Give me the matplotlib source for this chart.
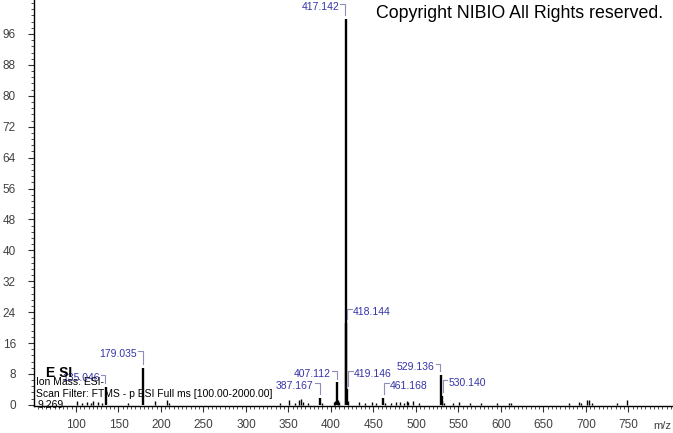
import matplotlib
matplotlib.use("Agg")
from matplotlib import pyplot as plt
from matplotlib.ticker import MultipleLocator

plt.rcParams['font.family'] = ['Liberation Sans', 'DejaVu Sans']

# labelled peaks: m/z, relative abundance
label_mz = [135.046, 179.035, 387.167, 407.112, 417.142, 418.144, 419.146, 461.168, 529.136, 530.140]
label_int = [4.7, 9.6, 1.8, 5.9, 100.0, 21.3, 4.1, 1.8, 7.8, 2.3]
label_text = ["135.046", "179.035", "387.167", "407.112", "417.142",
              "418.144", "419.146", "461.168", "529.136", "530.140"]
label_side = ["l", "l", "l", "l", "l", "r", "r", "r", "l", "r"]
label_y = [7.0, 13.2, 4.9, 8.0, 103.0, 24.1, 8.0, 4.9, 9.8, 5.7]

# small unlabelled peaks
minor_mz = [101.0, 106.5, 113.0, 117.5, 120.5, 126.0, 131.0, 161.0, 192.5, 207.0, 209.0,
            340.0, 351.0, 358.0, 362.5, 364.5, 367.0, 373.0, 389.0, 403.0, 405.0, 408.1,
            409.0, 420.1, 433.0, 440.0, 448.0, 453.0, 463.0, 471.0, 476.0, 481.0, 486.0,
            489.0, 491.0, 496.0, 503.0, 531.1, 533.0, 543.0, 551.0, 563.0, 577.0, 595.0,
            609.0, 612.0, 680.0, 692.0, 694.0, 701.5, 704.0, 707.0, 737.0, 748.0]
minor_int = [1.0, 0.6, 0.8, 0.5, 0.9, 0.7, 0.5, 0.4, 1.0, 1.3, 0.6,
             0.4, 1.2, 0.6, 1.3, 1.6, 0.8, 0.5, 0.6, 0.7, 1.0, 1.2,
             0.8, 1.0, 0.7, 0.5, 0.8, 0.4, 0.6, 0.5, 0.7, 0.8, 0.6,
             0.9, 0.7, 1.0, 0.5, 0.9, 0.6, 0.5, 0.8, 0.6, 0.5, 0.5,
             0.5, 0.4, 0.5, 0.8, 0.6, 1.3, 1.2, 0.5, 0.4, 1.2]

x_major = [100, 150, 200, 250, 300, 350, 400, 450, 500, 550, 600, 650, 700, 750]
y_major = [0, 8, 16, 24, 32, 40, 48, 56, 64, 72, 80, 88, 96]

W, H = 673, 433
fig = plt.figure(figsize=(W / 100, H / 100), dpi=100)
ax = fig.add_axes([34 / W, (H - 406) / H, 1 - 34 / W, 406 / H])

ax.vlines(minor_mz, 0, minor_int, color="black", lw=1.0)
ax.vlines(label_mz, 0, label_int, color="black", lw=1.7)

ax.set_xlim(50.6, 802.4)
ax.set_ylim(-0.3, 104.8)

for s in ["top", "right"]:
    ax.spines[s].set_visible(False)
ax.spines["left"].set_linewidth(1.0)
ax.spines["bottom"].set_linewidth(1.0)

ax.set_xticks(x_major)
ax.set_yticks(y_major)
ax.xaxis.set_minor_locator(MultipleLocator(5))
ax.yaxis.set_minor_locator(MultipleLocator(1.6))
ax.tick_params(axis="both", which="major", length=4, width=0.8, labelsize=8.5,
               labelcolor="#404040", color="#303030")
ax.tick_params(axis="both", which="minor", length=2, width=0.6, color="#303030")
ax.tick_params(axis="y", pad=9)
ax.tick_params(axis="x", pad=5)

blue = "#3434a8"
brk = "#8e8eb8"
dx = 5.5
for mz, h, txt, side, ty in zip(label_mz, label_int, label_text, label_side, label_y):
    top = ty + 0.8
    if side == "l":
        xs = mz - 0.5
        ax.plot([xs - dx, xs, xs], [top, top, h + 0.9], color=brk, lw=0.8, clip_on=False)
        ax.text(xs - dx - 1.5, ty, txt, ha="right", va="center", fontsize=7.5,
                color=blue, clip_on=False)
    else:
        xs = mz + 1.2
        ax.plot([xs + dx, xs, xs], [top, top, h + 0.9], color=brk, lw=0.8, clip_on=False)
        ax.text(xs + dx + 1.0, ty, txt, ha="left", va="center", fontsize=7.5,
                color=blue, clip_on=False)


def ftext(x, y, s, **kw):
    fig.text(x / W, 1 - y / H, s, **kw)


ftext(376, 14, "Copyright NIBIO All Rights reserved.", fontsize=12.8, va="center", color="black")
ftext(662, 426, "m/z", fontsize=8, ha="center", va="center", color="#404040")
ftext(46, 373, "E SI", fontsize=10, fontweight="bold", va="center")
ftext(36, 382, "Ion Mass: ESI-", fontsize=7.5, va="center")
ftext(36, 394, "Scan Filter: FTMS - p ESI Full ms [100.00-2000.00]", fontsize=7.5, va="center")
ftext(38, 405, "9.269", fontsize=7.5, va="center")

fig.savefig("out.png", dpi=100)
